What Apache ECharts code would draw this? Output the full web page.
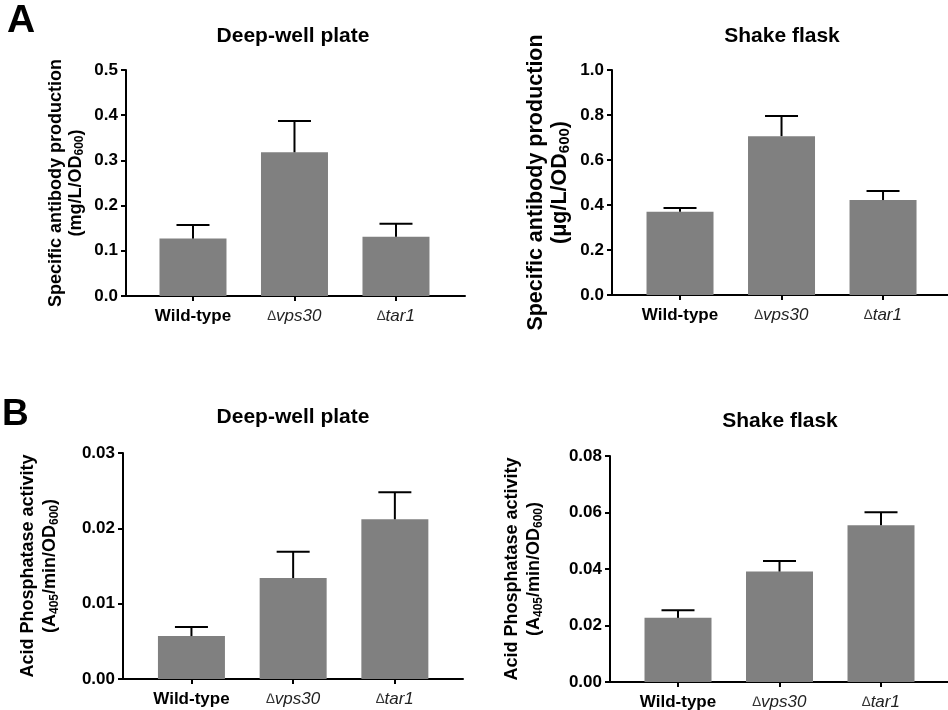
<!DOCTYPE html>
<html>
<head>
<meta charset="utf-8">
<script src="https://cdn.jsdelivr.net/npm/echarts@6/dist/echarts.min.js"></script>
<style>
  html, body { margin: 0; padding: 0; background: #fff; }
  #chart { width: 948px; height: 710px; }
</style>
</head>
<body>
<div id="chart"></div>
<script>
// Strains on the x axis (∆ = deletion mutant)
const categories = ['Wild-type', '∆vps30', '∆tar1'];

// A: specific antibody production, mean and SEM
const antibodyDeepWell = [0.127, 0.318, 0.131];
const antibodyDeepWellErr = [0.030, 0.069, 0.029];
const antibodyShakeFlask = [0.370, 0.706, 0.422];
const antibodyShakeFlaskErr = [0.017, 0.090, 0.040];

// B: acid phosphatase activity, mean and SEM
const acidPhosDeepWell = [0.0057, 0.0134, 0.0212];
const acidPhosDeepWellErr = [0.0012, 0.0035, 0.0036];
const acidPhosShakeFlask = [0.0227, 0.0391, 0.0555];
const acidPhosShakeFlaskErr = [0.0027, 0.0037, 0.0046];

// Y tick values per panel
const ticksAntibodyDeepWell = [0, 0.1, 0.2, 0.3, 0.4, 0.5];
const ticksAntibodyShakeFlask = [0, 0.2, 0.4, 0.6, 0.8, 1.0];
const ticksAcidPhosDeepWell = [0, 0.01, 0.02, 0.03];
const ticksAcidPhosShakeFlask = [0, 0.02, 0.04, 0.06, 0.08];

const FONT = '"Liberation Sans", Arial, Helvetica, sans-serif';

const panels = [
  { title: 'Deep-well plate', titleX: 293, titleY: 36,
    mean: antibodyDeepWell, err: antibodyDeepWellErr, ticks: ticksAntibodyDeepWell, digits: 1,
    grid: { left: 126, top: 70, width: 339, height: 226 }, xMin: 0.34, xMax: 3.68,
    name: '{t|Specific antibody production}\n{t|(mg/L/OD}{s|600}{t|)}',
    nameSize: 18, nameLine: 20, nameGap: 40 },
  { title: 'Shake flask', titleX: 782, titleY: 36,
    mean: antibodyShakeFlask, err: antibodyShakeFlaskErr, ticks: ticksAntibodyShakeFlask, digits: 1,
    grid: { left: 612, top: 70, width: 336, height: 225 }, xMin: 0.33, xMax: 3.64,
    name: '{t|Specific antibody production}\n{t|(μg/L/OD}{s|600}{t|)}',
    nameSize: 21.5, nameLine: 24, nameGap: 40 },
  { title: 'Deep-well plate', titleX: 293, titleY: 417.5,
    mean: acidPhosDeepWell, err: acidPhosDeepWellErr, ticks: ticksAcidPhosDeepWell, digits: 2,
    grid: { left: 123, top: 453, width: 340, height: 226 }, xMin: 0.327, xMax: 3.67,
    name: '{t|Acid Phosphatase activity}\n{t|(A}{s|405}{t|/min/OD}{s|600}{t|)}',
    nameSize: 18, nameLine: 22, nameGap: 62 },
  { title: 'Shake flask', titleX: 780, titleY: 421,
    mean: acidPhosShakeFlask, err: acidPhosShakeFlaskErr, ticks: ticksAcidPhosShakeFlask, digits: 2,
    grid: { left: 610, top: 456, width: 338, height: 226 }, xMin: 0.33, xMax: 3.66,
    name: '{t|Acid Phosphatase activity}\n{t|(A}{s|405}{t|/min/OD}{s|600}{t|)}',
    nameSize: 18, nameLine: 22, nameGap: 65 }
];

const positions = categories.map((c, i) => i + 1);

function categoryLabel(v) {
  const name = categories[Math.round(v) - 1];
  if (name === undefined) return '';
  if (name.charAt(0) === '∆') return '{d|∆}{i|' + name.slice(1) + '}';
  return '{b|' + name + '}';
}

const black = '#000';
const grids = [], xAxes = [], yAxes = [], series = [], graphics = [];

panels.forEach((p, i) => {
  grids.push(Object.assign({ outerBoundsMode: 'none', containLabel: false }, p.grid));

  xAxes.push({
    type: 'value', gridIndex: i, min: p.xMin, max: p.xMax,
    splitLine: { show: false },
    axisLine: { show: true, onZero: false, lineStyle: { color: black, width: 2 } },
    axisTick: { show: true, customValues: positions, length: 5, lineStyle: { color: black, width: 2 } },
    axisLabel: {
      customValues: positions, margin: 12, formatter: categoryLabel,
      rich: {
        b: { fontFamily: FONT, fontSize: 17, fontWeight: 'bold', color: black },
        d: { fontFamily: FONT, fontSize: 14, fontStyle: 'italic', color: '#333' },
        i: { fontFamily: FONT, fontSize: 17, fontStyle: 'italic', color: '#222' }
      }
    }
  });

  const t = p.ticks;
  yAxes.push({
    type: 'value', gridIndex: i,
    min: t[0], max: t[t.length - 1], interval: t[1] - t[0],
    splitLine: { show: false },
    axisLine: { show: true, lineStyle: { color: black, width: 2 } },
    axisTick: { show: true, length: 5, lineStyle: { color: black, width: 2 } },
    axisLabel: {
      margin: 8, fontFamily: FONT, fontSize: 17, fontWeight: 'bold', color: black,
      formatter: v => v.toFixed(p.digits)
    },
    name: p.name, nameLocation: 'middle', nameRotate: 90, nameGap: p.nameGap,
    nameTextStyle: {
      rich: {
        t: { fontFamily: FONT, fontSize: p.nameSize, fontWeight: 'bold', color: black, lineHeight: p.nameLine },
        s: { fontFamily: FONT, fontSize: Math.round(p.nameSize * 0.68), fontWeight: 'bold', color: black,
             lineHeight: Math.round(p.nameLine * 0.5), verticalAlign: 'bottom' }
      }
    }
  });

  series.push({
    type: 'bar', xAxisIndex: i, yAxisIndex: i, barWidth: 67, silent: true,
    itemStyle: { color: '#808080' },
    data: p.mean.map((v, k) => [positions[k], v])
  });

  series.push({
    type: 'custom', xAxisIndex: i, yAxisIndex: i, silent: true, z: 5,
    encode: { x: 0, y: [1, 2] },
    data: p.mean.map((v, k) => [positions[k], v, v + p.err[k]]),
    renderItem: (params, api) => {
      const base = api.coord([api.value(0), api.value(1)]);
      const top = api.coord([api.value(0), api.value(2)]);
      const half = 16.5;
      const style = { stroke: black, lineWidth: 2 };
      return {
        type: 'group',
        children: [
          { type: 'line', shape: { x1: base[0], y1: base[1], x2: top[0], y2: top[1] }, style },
          { type: 'line', shape: { x1: top[0] - half, y1: top[1], x2: top[0] + half, y2: top[1] }, style }
        ]
      };
    }
  });

  graphics.push({
    type: 'text', x: p.titleX, y: p.titleY,
    style: { text: p.title, fontFamily: FONT, fontSize: 21, fontWeight: 'bold', fill: black,
             align: 'center', verticalAlign: 'middle' }
  });
});

// Panel letters
graphics.push({ type: 'text', x: 7, y: 21,
  style: { text: 'A', fontFamily: FONT, fontSize: 39, fontWeight: 'bold', fill: black, align: 'left', verticalAlign: 'middle' } });
graphics.push({ type: 'text', x: 2, y: 415,
  style: { text: 'B', fontFamily: FONT, fontSize: 37, fontWeight: 'bold', fill: black, align: 'left', verticalAlign: 'middle' } });

const chart = echarts.init(document.getElementById('chart'), null, { renderer: 'canvas' });
chart.setOption({
  animation: false,
  backgroundColor: '#fff',
  textStyle: { fontFamily: FONT },
  grid: grids,
  xAxis: xAxes,
  yAxis: yAxes,
  series: series,
  graphic: graphics
});
</script>
</body>
</html>
